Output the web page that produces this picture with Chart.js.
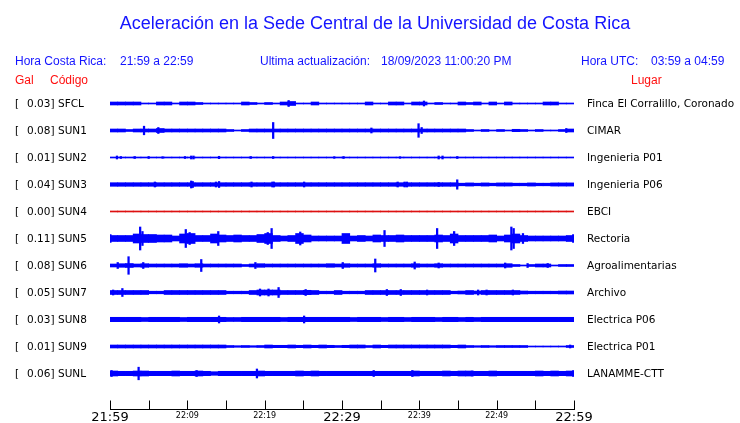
<!DOCTYPE html>
<html>
<head>
<meta charset="utf-8">
<script src="https://cdn.jsdelivr.net/npm/chart.js@4.4.0/dist/chart.umd.min.js"></script>
<style>
html, body { margin: 0; padding: 0; background: #fff; overflow: hidden; }
#marco { width: 740px; height: 423px; }
</style>
</head>
<body>
<div id="marco"><canvas id="sismoChart"></canvas></div>
<script>
// Estaciones
var codigos = ['SFCL', 'SUN1', 'SUN2', 'SUN3', 'SUN4', 'SUN5', 'SUN6', 'SUN7', 'SUN8', 'SUN9', 'SUNL'];
var lugares = ['Finca El Corralillo, Coronado', 'CIMAR', 'Ingenieria P01', 'Ingenieria P06', 'EBCI', 'Rectoria',
    'Agroalimentarias', 'Archivo', 'Electrica P06', 'Electrica P01', 'LANAMME-CTT'];
var gal = [0.03, 0.08, 0.01, 0.04, 0.00, 0.11, 0.08, 0.05, 0.03, 0.01, 0.06];

// Eje de tiempo (minutos desde 21:59)
var horasCR = ['21:59', '22:09', '22:19', '22:29', '22:39', '22:49', '22:59'];

// Nivel de fondo de cada traza (media amplitud)
var fondo = [0.5, 0.5, 0.5, 1.3, 0.5, 2.5, 0.5, 1.3, 1.5, 0.5, 1.5];

// Envolvente por minuto (media amplitud)
var envSFCL = [1.5,1.5,1.5,1.5,0.5,0.5,1.5,1.5,0.5,1.5, 1.5,1,0.5,0.5,0.5,0.5,0.5,1.5,1,0.5,
    1,0.5,1.5,2,0.5,0.5,1.5,0.5,0.5,0.5, 0.5,0.5,0.5,1.5,0.5,0.5,1.5,1.5,0.5,1.5,
    1.5,0.5,1,0.5,0.5,1.5,1,1.5,0.5,1.5, 0.5,1.5,0.5,0.5,0.5,0.5,1.5,1.5,0.5,0.5];
var envSUN1 = [1.5,1.5,1,1.5,1.5,1.5,2,1.5,1.5,1.5, 1.5,1.5,1.5,1.5,1.5,1,0.5,1,1.5,1.5,
    1.5,1.5,1.5,1.5,1.5,1.5,1.5,1.5,1.5,1.5, 1.5,1.5,1.5,1.5,1.5,1.5,1.5,1.5,1.5,1.5,
    1.5,1.5,1.5,1.5,1.5,1.5,1,0.5,1,0.5, 1,0.5,1.2,1,0.5,1,0.5,0.5,1,1.5];
var envSUN2 = [0.5,0.5,0.5,0.5,0.5,0.5,0.5,0.5,0.5,0.5, 0.5,0.5,0.5,0.5,0.5,0.5,0.5,0.5,0.5,0.5,
    0.5,0.5,0.5,0.5,0.5,0.5,0.5,0.5,0.5,0.5, 0.5,0.5,0.5,0.5,0.5,0.5,0.5,0.5,0.5,0.5,
    0.5,0.5,0.5,0.5,0.5,0.5,0.5,0.5,0.5,0.5, 0.5,0.5,0.5,0.5,0.5,0.5,0.5,0.5,0.5,0.5];
var envSUN3 = [1.8,1.8,1.8,1.8,1.8,1.8,1.8,1.8,1.8,1.8, 1.8,1.8,1.8,1.8,1.8,1.8,1.8,1.8,1.8,1.8,
    1.8,1.8,1.8,1.8,1.8,1.8,1.8,1.8,1.8,1.8, 1.8,1.8,1.8,1.8,1.8,1.8,1.8,1.8,1.8,1.8,
    1.8,1.8,1.8,1.8,1.8,1.3,1.6,1.3,1.6,1.3, 1.6,1.6,1.3,1.3,1.6,1.3,1.3,1.6,1.6,1.6];
var envSUN4 = [0.5,0.5,0.5,0.5,0.5,0.5,0.5,0.5,0.5,0.5, 0.5,0.5,0.5,0.5,0.5,0.5,0.5,0.5,0.5,0.5,
    0.5,0.5,0.5,0.5,0.5,0.5,0.5,0.5,0.5,0.5, 0.5,0.5,0.5,0.5,0.5,0.5,0.5,0.5,0.5,0.5,
    0.5,0.5,0.5,0.5,0.5,0.5,0.5,0.5,0.5,0.5, 0.5,0.5,0.5,0.5,0.5,0.5,0.5,0.5,0.5,0.5];
var envSUN5 = [3,3,3,4.5,4,4,3.5,3.5,2.5,4.5, 5,3,3,4.5,3.5,3,3.5,3,3,4,
    5,3,2.5,3,5,3.5,2.5,2.5,2.5,2.5, 5,2.5,3,2.5,3.5,3,3,3.5,3,3,
    3,3,3.5,3,4.5,3,3,3,3,3.5, 2.5,3.5,4.5,3,2.5,2.5,2.5,2.5,2.5,3];
var envSUN6 = [1.5,1.8,2,1.5,1.8,1.5,1.5,1.5,1.5,1.8, 1.5,1.8,1.5,1.5,1.5,1.5,1.5,1,1.5,1.8,
    1.5,1.5,1.5,1.5,1.5,1.5,1.5,1.5,1.8,1.5, 1.8,1.5,1.5,1.5,1.8,1.5,1.5,1.5,1.5,1.8,
    1.5,1.5,1.8,1.5,1.5,1.5,1.5,1.5,1.5,1.5, 1.5,1.8,1,0.5,1,1.5,1.5,0.5,1,1];
var envSUN7 = [2,2,2,2,2,1.3,1.3,2,2,2, 2,2,2,2,2,1.3,1.3,1.3,2,2.5,
    2.5,2.5,2,2,2,2.2,2,1.3,1.3,2, 1.3,1.3,1.3,2,2,2,2,2,2,2,
    2,2,2,2,1.3,1.5,2,1.5,2,2, 2,2,2,1.5,1.3,1.3,1.3,1.3,1.5,1.5];
var envSUN8 = [2.2,2.2,2.2,2.2,2,2.2,2.2,2.2,2.2,2, 2.2,2.2,2.2,2.2,2.2,2,2,2.2,2.2,2.2,
    2.2,2.2,2,2.2,2.2,2.2,2.2,2.2,2.2,2.2, 2.2,2,2.2,2.2,2.2,2,2.2,2.2,2,2.2,
    2.2,2.2,2,2.2,2.2,2,2.2,2,2.2,2.2, 2.2,2.2,2.2,2.2,2.2,2.2,2.2,2.2,2.2,2.2];
var envSUN9 = [1.5,1.5,1.5,1.5,1.5,1.5,1.5,1.5,1.5,1.5, 1.5,1.5,1.5,1.5,1.5,1,0.8,1,0.8,1,
    1.5,1.2,1.2,1.5,1.2,1.5,1.2,1.5,1.2,1, 1.2,1.5,1.5,1,1.5,1.2,1.5,1.5,1.5,1.5,
    1.5,1.5,1.5,1.5,1.2,1.5,1,0.8,1,0.8, 1,1,1,1,0.5,0.5,0.5,0.5,0.5,1];
var envSUNL = [2.5,2.2,2.2,2.5,2.5,2.2,2.2,2.2,2.5,2.2, 2.2,2.5,2.2,1.8,2.2,2.2,2.2,2.2,2.2,2.5,
    2.2,2.2,2.2,2.2,2.5,2.2,2.5,2.2,2.2,2.2, 2.2,2.2,2.2,2.2,2.2,2.2,2.2,2.2,2.2,2.5,
    2.2,2.2,2.2,2.5,2.2,2.5,2.5,2.2,2.2,2.5, 2.2,2.2,2.2,2.2,2.2,2.5,2.2,2.5,2.2,2.5];

// Picos aislados: [minuto, media amplitud]
var picosSFCL = [[23.1, 3], [40.6, 2.5]];
var picosSUN1 = [[4.4, 4.3], [6.25, 3], [21.1, 8], [33.8, 2.5], [39.9, 6.8], [40.3, 3], [59.0, 2]];
var picosSUN2 = [[0.9, 1.5], [1.4, 1], [3.2, 1], [5.0, 1], [6.8, 0.8], [9.7, 1], [10.5, 1.5], [10.8, 1.5],
    [14.1, 1.2], [18.2, 1], [21.1, 1], [29.0, 0.8], [30.2, 1], [37.5, 0.8], [42.5, 1.5], [43.0, 1.5], [44.9, 1]];
var picosSUN3 = [[5.8, 2.5], [10.5, 3.5], [10.7, 3], [13.7, 2.5], [14.1, 3], [18.3, 2.5], [21.0, 2.5], [21.2, 2.5],
    [25.1, 2.5], [37.2, 2.5], [38.1, 2.5], [38.4, 2.5], [42.5, 2], [44.9, 4.7]];
var picosSUN4 = [];
var picosSUN5 = [[0.05, 4], [3.9, 11.5], [4.2, 7], [9.8, 9], [10.3, 6], [14.0, 7], [20.4, 6], [20.9, 10], [24.6, 6.5],
    [35.5, 8], [42.3, 10], [44.5, 7], [51.9, 11.5], [52.2, 10], [53.4, 5], [59.9, 4]];
var picosSUN6 = [[1.0, 3], [2.4, 8.8], [4.3, 3], [11.8, 6], [18.8, 3], [30.1, 3], [34.3, 6.5], [39.4, 3.5],
    [42.5, 2.5], [51.1, 2.5], [54.0, 2], [56.6, 2]];
var picosSUN7 = [[0.4, 2.5], [1.6, 4], [19.4, 3.5], [20.5, 3.5], [21.8, 5], [25.3, 3], [35.8, 3], [37.6, 3],
    [41.0, 2.5], [47.6, 2.5], [48.7, 2.5], [52.1, 2.5]];
var picosSUN8 = [[14.1, 3.5], [25.1, 3.5]];
var picosSUN9 = [[59.5, 1.5]];
var picosSUNL = [[0.2, 3], [3.7, 6.3], [11.2, 3], [19.0, 4.5], [34.1, 3], [39.1, 3], [46.8, 2.5], [59.9, 3]];

var envolventes = [envSFCL, envSUN1, envSUN2, envSUN3, envSUN4, envSUN5, envSUN6, envSUN7, envSUN8, envSUN9, envSUNL];
var picos = [picosSFCL, picosSUN1, picosSUN2, picosSUN3, picosSUN4, picosSUN5, picosSUN6, picosSUN7, picosSUN8, picosSUN9, picosSUNL];

var titulo = 'Aceleración en la Sede Central de la Universidad de Costa Rica';
var azulTexto = '#1414ff';
var rojoTexto = '#ff1010';
var PX_FILA = 27; // pixeles por fila

document.addEventListener('DOMContentLoaded', function() {
    var datasets = [];
    codigos.forEach(function(codigo, i) {
        var color = codigo === 'SUN4' ? '#dd1111' : '#0000ff';
        datasets.push({
            type: 'line',
            data: [{ x: 0, y: i }, { x: 60, y: i }],
            borderColor: color,
            borderWidth: fondo[i] * 2,
            pointRadius: 0
        });
        datasets.push({
            type: 'bar',
            data: envolventes[i].map(function(a, m) {
                return { x: m + 0.5, y: [i - a / PX_FILA, i + a / PX_FILA] };
            }),
            backgroundColor: color,
            barThickness: 7.8,
            grouped: false
        });
        datasets.push({
            type: 'bar',
            data: picos[i].map(function(p) {
                return { x: p[0], y: [i - p[1] / PX_FILA, i + p[1] / PX_FILA] };
            }),
            backgroundColor: color,
            barThickness: 1.6,
            grouped: false
        });
    });

    var textos = {
        id: 'textos',
        afterDraw: function(chart) {
            var ctx = chart.ctx;
            var xs = chart.scales.x, ys = chart.scales.y;
            ctx.save();
            ctx.textBaseline = 'alphabetic';

            ctx.fillStyle = azulTexto;
            ctx.font = '18px "Liberation Sans", Arial, sans-serif';
            ctx.textAlign = 'center';
            ctx.fillText(titulo, 375, 29);

            ctx.textAlign = 'left';
            ctx.font = '12px "Liberation Sans", Arial, sans-serif';
            ctx.fillText('Hora Costa Rica:', 15, 65);
            ctx.fillText('21:59 a 22:59', 120, 65);
            ctx.fillText('Ultima actualización:', 260, 65);
            ctx.fillText('18/09/2023 11:00:20 PM', 381, 65);
            ctx.fillText('Hora UTC:', 581, 65);
            ctx.fillText('03:59 a 04:59', 651, 65);

            ctx.fillStyle = rojoTexto;
            ctx.fillText('Gal', 15, 84);
            ctx.fillText('Código', 50, 84);
            ctx.fillText('Lugar', 631, 84);

            ctx.fillStyle = '#000';
            ctx.font = '10.5px "DejaVu Sans", sans-serif';
            codigos.forEach(function(codigo, i) {
                var yb = ys.getPixelForValue(i) + 3.2;
                ctx.fillText('[', 15, yb);
                ctx.fillText(gal[i].toFixed(2) + ']', 27, yb);
                ctx.fillText(codigo, 58, yb);
                ctx.fillText(lugares[i], 587, yb);
            });

            // eje de tiempo
            var y0 = chart.chartArea.bottom + 0.5;
            ctx.strokeStyle = '#000';
            ctx.lineWidth = 1;
            ctx.beginPath();
            ctx.moveTo(Math.round(xs.getPixelForValue(0)), y0);
            ctx.lineTo(Math.round(xs.getPixelForValue(60)) + 1, y0);
            for (var t = 0; t <= 60; t += 5) {
                var px = Math.round(xs.getPixelForValue(t)) + 0.5;
                ctx.moveTo(px, y0 - 9);
                ctx.lineTo(px, y0);
            }
            ctx.stroke();

            ctx.textAlign = 'center';
            horasCR.forEach(function(h, k) {
                var grande = k % 3 === 0;
                ctx.font = (grande ? '13px' : '8px') + ' "DejaVu Sans", sans-serif';
                ctx.fillText(h, xs.getPixelForValue(k * 10), grande ? 421 : 418);
            });
            ctx.restore();
        }
    };

    new Chart(document.getElementById('sismoChart'), {
        type: 'bar',
        data: { datasets: datasets },
        options: {
            responsive: true,
            maintainAspectRatio: false,
            animation: false,
            events: [],
            layout: { padding: { left: 110, right: 166, top: 85, bottom: 14 } },
            scales: {
                x: { type: 'linear', min: 0, max: 60, offset: false, display: false },
                y: { type: 'linear', min: -0.685, max: 11.315, reverse: true, display: false }
            },
            plugins: {
                legend: { display: false },
                tooltip: { enabled: false }
            }
        },
        plugins: [textos]
    });
});
</script>
</body>
</html>
